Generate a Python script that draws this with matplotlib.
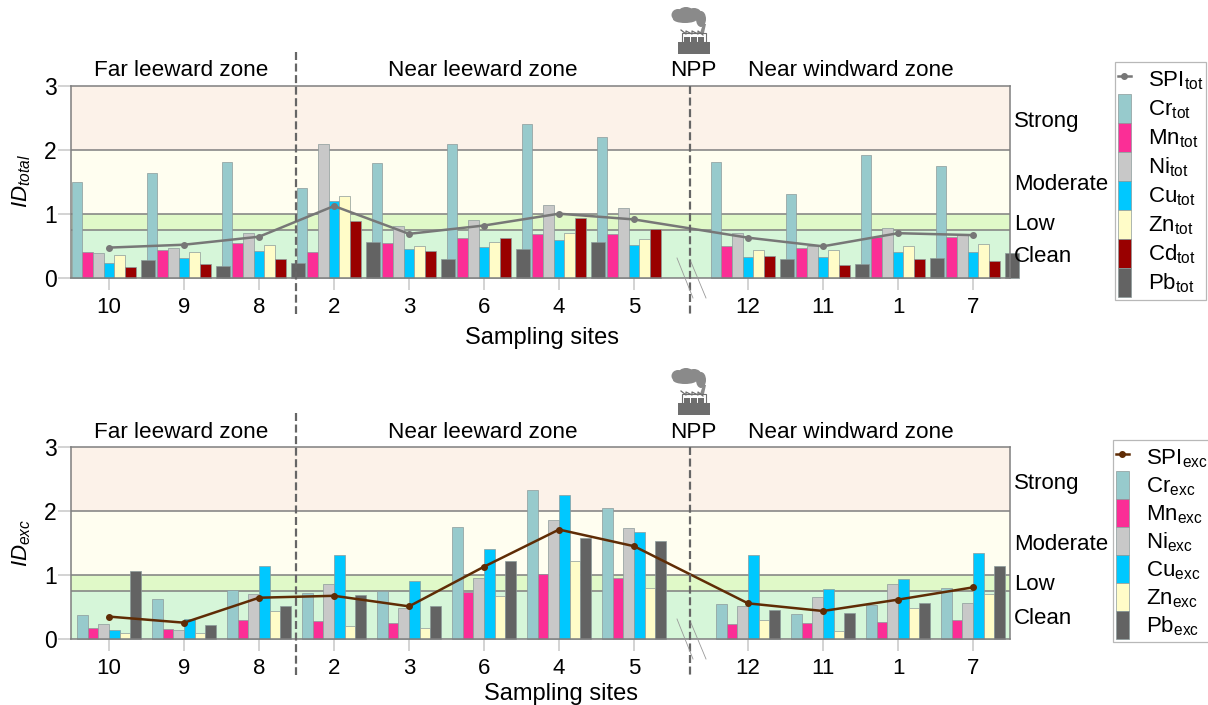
import numpy as np
import matplotlib
matplotlib.use('Agg')
import matplotlib.pyplot as plt
from matplotlib.lines import Line2D
from matplotlib.patches import Patch, Rectangle, Ellipse, Polygon

plt.rcParams['font.family'] = ['Liberation Sans', 'DejaVu Sans']
plt.rcParams['mathtext.fontset'] = 'custom'
plt.rcParams['mathtext.rm'] = 'Liberation Sans'
plt.rcParams['mathtext.it'] = 'Liberation Sans:italic'
plt.rcParams['mathtext.default'] = 'regular'

# sampling sites, left to right
sites = ['10', '9', '8', '2', '3', '6', '4', '5', '12', '11', '1', '7']
site_pos = [0, 1, 2, 3, 4, 5, 6, 7, 8.52, 9.52, 10.52, 11.52]

# total contents
cr_tot = [1.505, 1.645, 1.82, 1.40, 1.79, 2.09, 2.41, 2.20, 1.81, 1.31, 1.92, 1.745]
mn_tot = [0.40, 0.43, 0.55, 0.41, 0.55, 0.625, 0.69, 0.69, 0.495, 0.47, 0.635, 0.64]
ni_tot = [0.385, 0.475, 0.71, 2.10, 0.81, 0.90, 1.14, 1.09, 0.71, 0.505, 0.785, 0.69]
cu_tot = [0.23, 0.31, 0.42, 1.21, 0.45, 0.48, 0.60, 0.52, 0.33, 0.33, 0.41, 0.40]
zn_tot = [0.365, 0.40, 0.52, 1.28, 0.505, 0.57, 0.70, 0.615, 0.44, 0.43, 0.505, 0.535]
cd_tot = [0.17, 0.22, 0.30, 0.895, 0.42, 0.62, 0.93, 0.77, 0.34, 0.20, 0.30, 0.27]
pb_tot = [0.28, 0.19, 0.235, 0.56, 0.29, 0.45, 0.56, np.nan, 0.29, 0.22, 0.31, 0.39]
spi_tot = [0.475, 0.52, 0.645, 1.125, 0.69, 0.82, 1.005, 0.915, 0.63, 0.495, 0.70, 0.67]

# exchangeable forms
cr_exc = [0.375, 0.625, 0.76, 0.72, 0.745, 1.755, 2.33, 2.05, 0.55, 0.39, 0.535, 0.795]
mn_exc = [0.165, 0.155, 0.29, 0.28, 0.245, 0.74, 1.015, 0.96, 0.24, 0.255, 0.27, 0.30]
ni_exc = [0.235, 0.135, 0.71, 0.86, 0.485, 0.96, 1.86, 1.735, 0.515, 0.66, 0.86, 0.56]
cu_exc = [0.14, 0.305, 1.14, 1.31, 0.905, 1.41, 2.25, 1.67, 1.31, 0.775, 0.94, 1.34]
zn_exc = [0.09, 0.095, 0.43, 0.20, 0.17, 0.67, 1.22, 0.79, 0.29, 0.125, 0.485, 0.70]
pb_exc = [1.06, 0.225, 0.51, 0.68, 0.51, 1.225, 1.58, 1.525, 0.46, 0.41, 0.555, 1.14]
spi_exc = [0.35, 0.255, 0.645, 0.675, 0.51, 1.13, 1.71, 1.45, 0.557, 0.4375, 0.615, 0.807]

zone_names = ['Far leeward zone', 'Near leeward zone', 'Near windward zone']
level_names = ['Strong', 'Moderate', 'Low', 'Clean']

CR, MN, NI, CU, ZN, CD, PB = '#97CACC', '#FB2E96', '#C8C8C8', '#00C8FF', '#FFFCC8', '#990000', '#636363'
GRID = '#7f7f7f'
TICK = '#c8c8c8'
W = 1208
H = 705
FS = 16
PX = 72 / 100  # one pixel in points at dpi 100
BAR_W = 10.7 / 75


def make_axes(top, bottom):
    ax = fig.add_axes([71 / W, 1 - bottom / H, 939 / W, (bottom - top) / H])
    ax.set_xlim(-0.507, 12.013)
    ax.set_ylim(0, 3)
    ax.axhspan(2, 3, color='#FCF2E9', lw=0, zorder=0)
    ax.axhspan(1, 2, color='#FFFEF0', lw=0, zorder=0)
    ax.axhspan(0.75, 1, color='#E0F9C8', lw=0, zorder=0)
    ax.axhspan(0, 0.75, color='#D6F6D9', lw=0, zorder=0)
    for lev in [2, 1, 0.75]:
        ax.axhline(lev, color=GRID, lw=1.1, zorder=1)
    for s in ax.spines.values():
        s.set_color(GRID)
        s.set_linewidth(1.1)
    ax.set_xticks(site_pos)
    ax.set_xticklabels(sites, fontsize=FS)
    ax.set_yticks([0, 1, 2, 3])
    ax.tick_params(axis='x', length=12 * PX, width=1.1, color=TICK, pad=5)
    ax.tick_params(axis='y', length=13 * PX, width=1.1, color=TICK, pad=1, labelsize=16.5)
    return ax


def draw_bars(ax, values, colors, offsets, widths):
    for vals, col, off, w in zip(values, colors, offsets, widths):
        xs = np.array(site_pos) + off * BAR_W
        ax.bar(xs, vals, width=w * BAR_W, color=col, edgecolor='#8c9a9a', linewidth=0.5,
               zorder=2, clip_on=False)


def draw_legend(ax, names, colors, spi_color, sub, top, left, handle_h):
    handles = [Line2D([], [], color=spi_color, lw=1.8, marker='o', ms=4)]
    handles += [Patch(facecolor=c, edgecolor='#8c9a9a', linewidth=0.5) for c in colors]
    labels = ['SPI$_{%s}$' % sub] + ['%s$_{%s}$' % (n, sub) for n in names]
    leg = ax.legend(handles, labels, loc='upper left', bbox_to_anchor=(left / W, 1 - top / H),
                    bbox_transform=fig.transFigure, fontsize=FS, frameon=True, fancybox=False,
                    edgecolor='#b8b8b8', framealpha=1, borderaxespad=0, borderpad=0.13,
                    labelspacing=0, handlelength=13 / 22.2, handleheight=handle_h,
                    handletextpad=0.78, numpoints=1)
    leg.get_frame().set_linewidth(0.9)
    return leg


def factory(dy):
    # NPP icon, in pixels of the overlay
    for cx, cy, ew, eh in [(678, 15, 13, 12), (686, 13, 16, 12), (694, 14, 15, 12),
                           (701, 19, 10, 16), (685, 19, 24, 8)]:
        over.add_patch(Ellipse((cx, cy + dy), ew, eh, color='#8a8a8a', lw=0))
    over.add_patch(Polygon([(700, 33 + dy), (704, 33 + dy), (706, 24 + dy), (703, 24 + dy)],
                           color='#8a8a8a', lw=0))
    over.add_patch(Rectangle((682, 33 + dy), 24, 9, fc='white', ec='#6e6e6e', lw=0.8))
    saw_x = [681, 686, 686, 692, 692, 698, 698, 703]
    saw_y = [30, 34, 31, 34, 31, 34, 31, 35]
    over.plot(saw_x, np.array(saw_y) + dy, color='#6e6e6e', lw=0.9)
    for wx in [684, 691, 698]:
        over.add_patch(Rectangle((wx, 37 + dy), 6, 5, color='#6e6e6e', lw=0))
    over.add_patch(Rectangle((678, 42 + dy), 32, 12, color='#6e6e6e', lw=0))


def annotate(dy):
    for name, cx in zip(zone_names, [181, 483, 851]):
        over.text(cx, 71 + dy, name, fontsize=16.2, ha='center', va='center')
    over.text(693, 71 + dy, 'NPP', fontsize=16.2, ha='center', va='center')
    for name, cy in zip(level_names, [122, 184, 224, 257]):
        over.text(1014, cy + dy, name, fontsize=FS, ha='left', va='center')
    dash = (0, (3.6, 1.6))
    over.plot([296, 296], [52 + dy, 314 + dy], color='#666666', lw=1.6, ls=dash)
    over.plot([690, 690], [86 + dy, 314 + dy], color='#666666', lw=1.6, ls=dash)
    over.plot([677, 693], [258 + dy, 298 + dy], color='#999999', lw=0.6)
    over.plot([691, 706], [262 + dy, 298 + dy], color='#999999', lw=0.6)
    factory(dy)


fig = plt.figure(figsize=(W / 100, H / 100), dpi=100)

# --- total ---
ax1 = make_axes(86, 278)
draw_bars(ax1, [cr_tot, mn_tot, ni_tot, cu_tot, zn_tot, cd_tot, pb_tot],
          [CR, MN, NI, CU, ZN, CD, PB], [-3, -2, -1, 0, 1, 2, 3.65], [1, 1, 1, 1, 1, 1, 1.3])
ax1.plot(site_pos, spi_tot, color='#777777', lw=1.8, marker='o', ms=4, zorder=4)
ax1.set_xlabel('Sampling sites', fontsize=17, va='center')
ax1.xaxis.set_label_coords((542 - 71) / 939, -(338 - 278) / 192)
ax1.set_ylabel(r'$\mathit{ID}_{\mathit{total}}$', fontsize=FS, va='center')
ax1.yaxis.set_label_coords(-(71 - 22) / 939, (278 - 181) / 192)
draw_legend(ax1, ['Cr', 'Mn', 'Ni', 'Cu', 'Zn', 'Cd', 'Pb'], [CR, MN, NI, CU, ZN, CD, PB],
            '#777777', 'tot', 62, 1115, 1.63)

# --- exchangeable ---
ax2 = make_axes(447, 639)
draw_bars(ax2, [cr_exc, mn_exc, ni_exc, cu_exc, zn_exc, pb_exc],
          [CR, MN, NI, CU, ZN, PB], [-2.5, -1.5, -0.5, 0.5, 1.5, 2.5], [1, 1, 1, 1, 1, 1])
ax2.plot(site_pos, spi_exc, color='#5f2c05', lw=1.8, marker='o', ms=4, zorder=4)
ax2.set_xlabel('Sampling sites', fontsize=17, va='center')
ax2.xaxis.set_label_coords((561 - 71) / 939, -(694 - 639) / 192)
ax2.set_ylabel(r'$\mathit{ID}_{\mathit{exc}}$', fontsize=FS, va='center')
ax2.yaxis.set_label_coords(-(71 - 22) / 939, (639 - 543) / 192)
draw_legend(ax2, ['Cr', 'Mn', 'Ni', 'Cu', 'Zn', 'Pb'], [CR, MN, NI, CU, ZN, PB],
            '#5f2c05', 'exc', 440, 1113, 1.56)

# overlay in pixel coordinates for zone text, dividers and the plant icon
over = fig.add_axes([0, 0, 1, 1], zorder=5)
over.set_xlim(0, W)
over.set_ylim(H, 0)
over.axis('off')
annotate(0)
annotate(361)

fig.savefig('out.png', dpi=100)
